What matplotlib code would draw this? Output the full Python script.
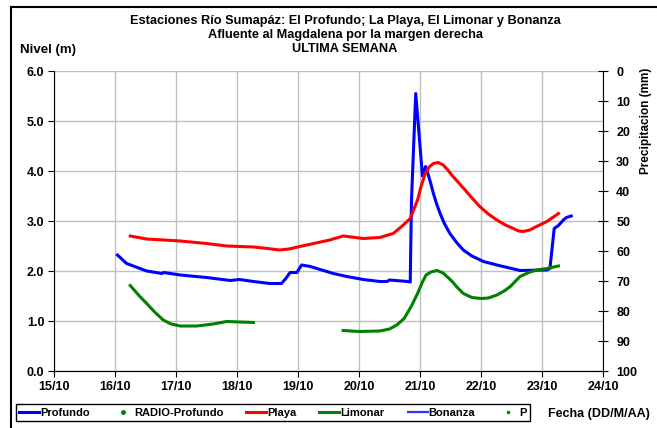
import numpy as np
import matplotlib.pyplot as plt
from matplotlib.lines import Line2D

plt.rcParams['font.family'] = ['Liberation Sans', 'DejaVu Sans']
plt.rcParams['font.weight'] = 'bold'

######################### datos
fechas = ['15/10', '16/10', '17/10', '18/10', '19/10', '20/10', '21/10', '22/10', '23/10', '24/10']
# tiempo en dias contados desde el 15/10 00:00
prof_t = [1.04, 1.19, 1.52, 1.77, 1.80, 2.07, 2.50, 2.89, 3.04, 3.27, 3.54, 3.73, 3.80, 3.87,
          3.98, 4.06, 4.20, 4.58, 4.80, 5.07, 5.34, 5.46, 5.50, 5.80, 5.84, 5.86, 5.93, 6.04,
          6.09, 6.11, 6.17, 6.22, 6.27, 6.33, 6.40, 6.49, 6.60, 6.71, 6.85, 7.04, 7.26, 7.64,
          8.08, 8.13, 8.20, 8.27, 8.35, 8.40, 8.48]
prof_nivel = [2.32, 2.15, 2.00, 1.95, 1.97, 1.92, 1.87, 1.81, 1.83, 1.79, 1.75, 1.75, 1.85, 1.97,
              1.97, 2.12, 2.09, 1.95, 1.89, 1.83, 1.79, 1.79, 1.82, 1.79, 1.78, 3.40, 5.55, 3.90,
              4.09, 4.03, 3.78, 3.55, 3.35, 3.15, 2.95, 2.75, 2.57, 2.42, 2.30, 2.19, 2.12, 2.01,
              2.02, 2.05, 2.85, 2.91, 3.02, 3.07, 3.10]

playa_t = [1.25, 1.52, 2.07, 2.50, 2.83, 3.27, 3.50, 3.70, 3.85, 4.03, 4.52, 4.74, 5.07, 5.34,
           5.56, 5.70, 5.84, 5.96, 6.02, 6.08, 6.15, 6.22, 6.30, 6.38, 6.45, 6.52, 6.63, 6.74,
           6.86, 6.98, 7.12, 7.26, 7.40, 7.53, 7.62, 7.69, 7.80, 7.91, 8.08, 8.27]
playa_nivel = [2.70, 2.64, 2.60, 2.55, 2.50, 2.48, 2.45, 2.42, 2.44, 2.49, 2.62, 2.70, 2.65, 2.67,
               2.75, 2.89, 3.05, 3.42, 3.70, 3.93, 4.08, 4.15, 4.17, 4.12, 4.03, 3.92, 3.77, 3.62,
               3.45, 3.29, 3.14, 3.02, 2.92, 2.85, 2.80, 2.79, 2.82, 2.89, 2.99, 3.15]

limonar_t = [1.25, 1.40, 1.52, 1.65, 1.79, 1.92, 2.07, 2.34, 2.61, 2.83, 3.05, 3.27, np.nan,
             4.74, 5.00, 5.34, 5.50, 5.62, 5.74, 5.86, 5.96, 6.04, 6.10, 6.18, 6.28, 6.38, 6.45,
             6.52, 6.62, 6.71, 6.85, 7.00, 7.12, 7.26, 7.38, 7.48, 7.64, 7.78, 7.91, 8.08, 8.27]
limonar_nivel = [1.71, 1.50, 1.35, 1.18, 1.02, 0.94, 0.90, 0.90, 0.94, 0.99, 0.98, 0.97, np.nan,
                 0.81, 0.79, 0.80, 0.84, 0.92, 1.05, 1.30, 1.55, 1.78, 1.92, 1.98, 2.01, 1.96, 1.88,
                 1.80, 1.66, 1.55, 1.47, 1.45, 1.46, 1.52, 1.60, 1.69, 1.89, 1.97, 2.02, 2.05, 2.10]

# series sin datos esta semana
bonanza_t, bonanza_nivel = [], []
radio_t, radio_nivel = [], []
p_t, p_mm = [], []
###########################################################

W, H = 657, 428
fig = plt.figure(figsize=(W/100, H/100), dpi=100)
ax = fig.add_axes([54/W, 57/H, 549/W, 300/H])

ax.plot(prof_t, prof_nivel, color='#0000ff', lw=2.2, label='Profundo', zorder=3)
ax.plot(radio_t, radio_nivel, 'o', color='#008000', ms=2.5, label='RADIO-Profundo')
ax.plot(playa_t, playa_nivel, color='#ff0000', lw=2.2, label='Playa', zorder=3)
ax.plot(limonar_t, limonar_nivel, color='#008000', lw=2.2, label='Limonar', zorder=3)
ax.plot(bonanza_t, bonanza_nivel, color='#3333ff', lw=1.6, label='Bonanza')
ax.plot(p_t, p_mm, 'o', color='#008000', ms=1.5, label='P')

ax.set_xlim(0, 9)
ax.set_ylim(0, 6)
ax.set_xticks(range(len(fechas)))
ax.set_xticklabels(fechas)
ax.set_yticks(range(7))
ax.set_yticklabels(['%.1f' % v for v in range(7)])
ax.grid(color='#c0c0c0', lw=1)
ax.set_axisbelow(True)
ax.tick_params(labelsize=9, length=4, color='black', pad=3)
ax.spines['top'].set_visible(False)
ax.spines['right'].set_visible(False)

ax2 = ax.twinx()
ax2.set_ylim(100, 0)
ax2.set_yticks(range(0, 101, 10))
ax2.tick_params(labelsize=9, direction='inout', length=7, pad=6)
ax2.spines['top'].set_visible(False)
ax2.spines['left'].set_visible(False)

fig.text(646/W, 1-68/H, 'Precipitacion (mm)', rotation=90, ha='center', va='top', fontsize=8.5)
fig.text(345/W, 1-21/H, 'Estaciones Río Sumapáz: El Profundo; La Playa, El Limonar y Bonanza',
         ha='center', va='center', fontsize=9.2)
fig.text(345/W, 1-35/H, 'Afluente al Magdalena por la margen derecha', ha='center', va='center', fontsize=9.2)
fig.text(345/W, 1-49/H, 'ULTIMA SEMANA', ha='center', va='center', fontsize=9.2)
fig.text(20/W, 1-50/H, 'Nivel (m)', ha='left', va='center', fontsize=9.5)
fig.text(548/W, 1-414/H, 'Fecha (DD/M/AA)', ha='left', va='center', fontsize=9)

leg = fig.legend(loc='lower left', bbox_to_anchor=(16/W, 7/H, 514/W, 20/H), mode='expand',
                 ncol=6, fontsize=8, fancybox=False, edgecolor='black', framealpha=1,
                 handlelength=1.8, handletextpad=0.1, borderpad=0.3, columnspacing=0.5,
                 borderaxespad=0)
leg.get_frame().set_linewidth(1)

# marco de la figura
fig.add_artist(Line2D([11/W, 11/W], [0, 1-7/H], color='black', lw=1.5))
fig.add_artist(Line2D([11/W, 1], [1-7/H, 1-7/H], color='black', lw=1.5))

fig.savefig('out.png', dpi=100)
